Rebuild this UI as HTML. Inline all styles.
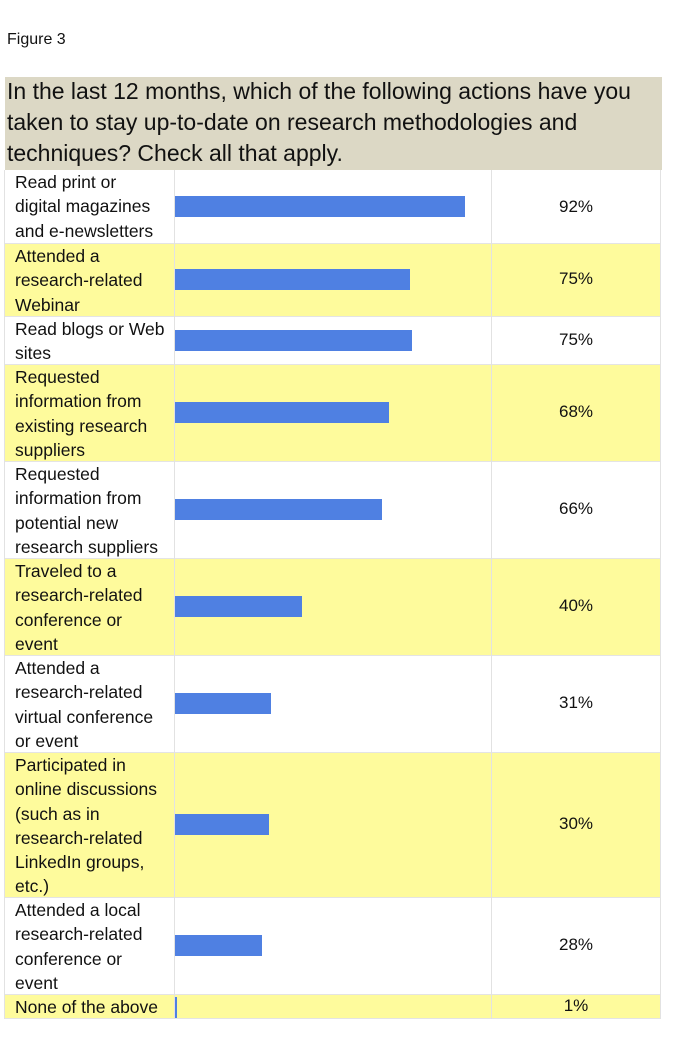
<!DOCTYPE html>
<html><head><style>
body{margin:0;width:675px;height:1044px;background:#fff;position:relative;overflow:hidden;font-family:"Liberation Sans",sans-serif;color:#111}
.a{position:absolute}
.h{left:5px;top:77px;width:657px;height:93px;background:#dcd8c5}
.hl{position:absolute;left:2px;font-size:23px;white-space:nowrap;transform-origin:0 0;transform:scaleX(1.0)}
.row{position:absolute;left:4px;width:657px;border-bottom:1px solid #e4e4e4;box-sizing:border-box}
.y{background:#fefb9c}
.lab{position:absolute;left:11px;top:0;font-size:17.5px;line-height:24.3px;white-space:nowrap}
.bar{position:absolute;left:171px;height:21px;background:#4f80e2}
.pct{position:absolute;left:487px;width:170px;text-align:center;font-size:17px}
.v{position:absolute;top:170px;height:849px;width:1px;background:#e2e2e2}
</style></head><body>
<div class="a" style="left:7px;top:31px;font-size:16px">Figure 3</div>
<div class="a h">
<div class="hl" style="top:1px">In the last 12 months, which of the following actions have you</div>
<div class="hl" style="top:32px">taken to stay up-to-date on research methodologies and</div>
<div class="hl" style="top:63px">techniques? Check all that apply.</div>
</div>
<div class="row" style="top:170px;height:74px"><div class="lab">Read print or<br>digital magazines<br>and e-newsletters</div><div class="bar" style="top:26px;width:290px"></div><div class="pct" style="top:27px">92%</div></div>
<div class="row y" style="top:244px;height:73px"><div class="lab">Attended a<br>research-related<br>Webinar</div><div class="bar" style="top:25px;width:235px"></div><div class="pct" style="top:25px">75%</div></div>
<div class="row" style="top:317px;height:48px"><div class="lab">Read blogs or Web<br>sites</div><div class="bar" style="top:13px;width:237px"></div><div class="pct" style="top:13px">75%</div></div>
<div class="row y" style="top:365px;height:97px"><div class="lab">Requested<br>information from<br>existing research<br>suppliers</div><div class="bar" style="top:37px;width:214px"></div><div class="pct" style="top:37px">68%</div></div>
<div class="row" style="top:462px;height:97px"><div class="lab">Requested<br>information from<br>potential new<br>research suppliers</div><div class="bar" style="top:37px;width:207px"></div><div class="pct" style="top:37px">66%</div></div>
<div class="row y" style="top:559px;height:97px"><div class="lab">Traveled to a<br>research-related<br>conference or<br>event</div><div class="bar" style="top:37px;width:127px"></div><div class="pct" style="top:37px">40%</div></div>
<div class="row" style="top:656px;height:97px"><div class="lab">Attended a<br>research-related<br>virtual conference<br>or event</div><div class="bar" style="top:37px;width:96px"></div><div class="pct" style="top:37px">31%</div></div>
<div class="row y" style="top:753px;height:145px"><div class="lab">Participated in<br>online discussions<br>(such as in<br>research-related<br>LinkedIn groups,<br>etc.)</div><div class="bar" style="top:61px;width:94px"></div><div class="pct" style="top:61px">30%</div></div>
<div class="row" style="top:898px;height:97px"><div class="lab">Attended a local<br>research-related<br>conference or<br>event</div><div class="bar" style="top:37px;width:87px"></div><div class="pct" style="top:37px">28%</div></div>
<div class="row y" style="top:995px;height:24px"><div class="lab">None of the above</div><div class="bar" style="top:2px;width:2px"></div><div class="pct" style="top:1px">1%</div></div>
<div class="v" style="left:4px"></div>
<div class="v" style="left:174px"></div>
<div class="v" style="left:491px"></div>
<div class="v" style="left:660px"></div>
</body></html>
